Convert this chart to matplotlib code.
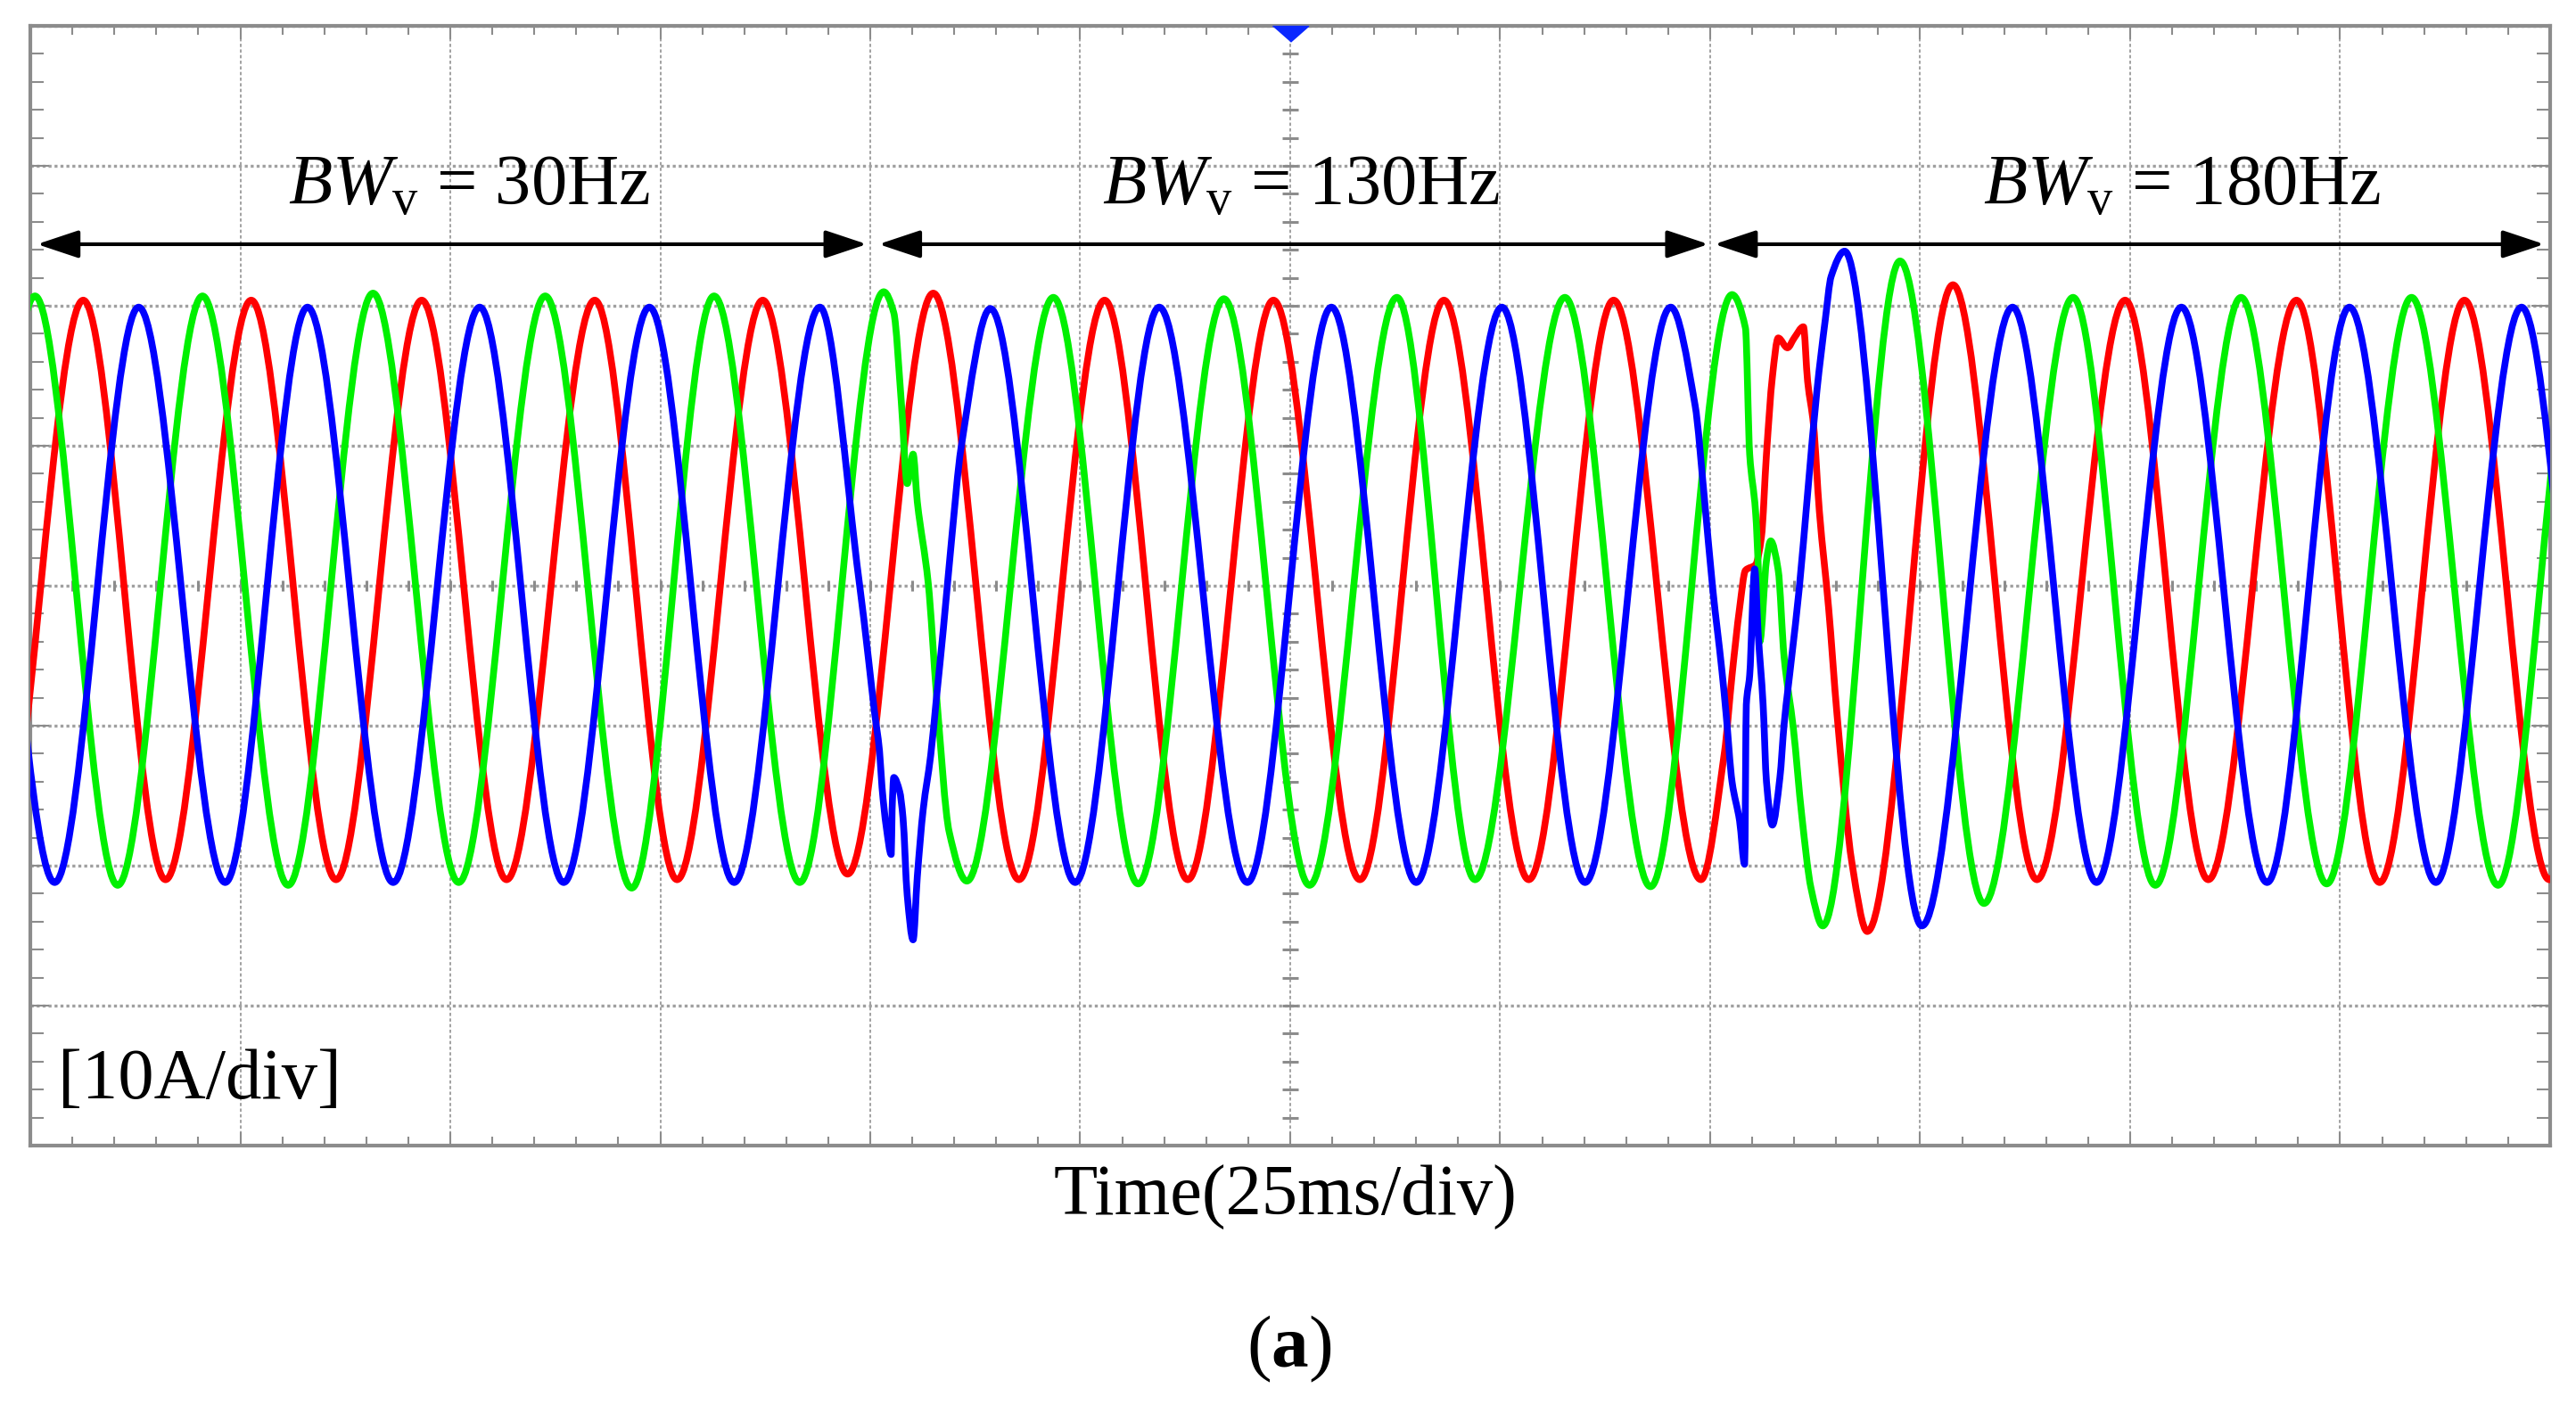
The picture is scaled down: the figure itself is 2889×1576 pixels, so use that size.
import matplotlib
matplotlib.use("Agg")
import matplotlib.pyplot as plt
from matplotlib.path import Path
from matplotlib.patches import PathPatch
import numpy as np

plt.rcParams["font.family"] = ["Liberation Serif", "DejaVu Serif"]
plt.rcParams["mathtext.fontset"] = "custom"
plt.rcParams["mathtext.rm"] = "Liberation Serif"
plt.rcParams["mathtext.it"] = "Liberation Serif:italic"
plt.rcParams["mathtext.bf"] = "Liberation Serif:bold"

# turning points (peaks / troughs) of each phase current, time in ms, current in A
green_turn_t = [-9.5, 0.55, 10.4, 20.5, 30.7, 40.8, 51.0, 61.3, 71.6, 81.4, 91.6, 101.6,
                111.5, 121.8, 131.9, 142.1, 152.3, 162.7, 172.0, 182.7, 192.9, 202.6,
                213.4, 222.6, 232.6, 243.2, 253.0, 263.2, 273.4, 283.5, 293.8, 303.7]
green_turn_i = [-21.4, 20.7, -21.4, 20.7, -21.4, 20.9, -21.2, 20.7, -21.6, 20.7, -21.2, 21.0,
                -21.1, 20.6, -21.3, 20.5, -21.4, 20.6, -21.0, 20.6, -21.5, 20.8,
                -24.3, 23.2, -22.7, 20.6, -21.4, 20.6, -21.3, 20.6, -21.4, 20.6]

red_turn_t = [-3.9, 6.3, 16.1, 26.3, 36.4, 46.6, 56.7, 67.2, 77.0, 87.2, 97.3, 107.5,
              117.7, 127.9, 137.8, 148.0, 158.3, 168.3, 178.4, 188.5, 198.9,
              218.7, 228.9, 238.9, 249.4, 259.3, 269.8, 279.7, 289.8, 299.9, 310.0]
red_turn_i = [-21.0, 20.4, -21.0, 20.4, -21.0, 20.4, -21.0, 20.4, -21.0, 20.4, -20.6, 20.9,
              -21.0, 20.4, -21.0, 20.4, -21.0, 20.4, -21.0, 20.4, -21.0,
              -24.7, 21.5, -21.0, 20.4, -21.0, 20.4, -21.2, 20.4, -21.0, 20.4]

blue_turn_t = [-7.3, 2.9, 12.9, 23.2, 33.0, 43.2, 53.5, 63.5, 73.7, 83.8, 94.0,
               114.3, 124.4, 134.4, 144.9, 154.9, 165.0, 175.2, 185.1, 195.3,
               216.0, 225.2, 236.0, 246.0, 256.1, 266.3, 276.1, 286.4, 296.6, 306.6]
blue_turn_i = [19.9, -21.2, 19.9, -21.2, 19.9, -21.2, 19.9, -21.2, 19.9, -21.2, 19.9,
               19.8, -21.2, 19.9, -21.2, 19.9, -21.2, 19.9, -21.2, 19.9,
               23.9, -24.3, 19.9, -21.2, 19.9, -21.2, 19.9, -21.2, 19.9, -21.2]

# transient samples around the two bandwidth switches (100 ms and 200 ms)
green_step_t = [102.8, 103.7, 104.4, 105.1, 105.6, 106.9, 107.9, 109.4,
                204.2, 204.7, 205.4, 205.8, 205.9, 206.7, 207.2, 208.1, 208.8, 209.9, 210.9, 212.0]
green_step_i = [19.5, 13.1, 7.3, 9.4, 6.0, 0.2, -7.9, -17.6,
                18.4, 9.4, 5.3, -0.2, -4.0, 1.8, 3.2, 1.1, -5.1, -10.2, -16.4, -21.6]

red_step_t = [201.7, 202.6, 203.5, 204.2, 205.4, 206.1, 206.7, 207.4, 208.1, 209.2,
              210.0, 211.1, 211.6, 212.3, 213.0, 214.1, 215.1, 216.9]
red_step_i = [-11.9, -6.4, -1.6, 1.1, 1.5, 3.5, 9.4, 14.9, 17.7, 17.0,
              17.7, 18.5, 14.6, 11.5, 5.3, -1.6, -9.2, -19.9]

blue_step_t = [98.7, 99.8, 100.5, 101.1, 101.4, 101.9, 102.5, 102.6, 102.8, 103.5, 103.9,
               104.4, 105.1, 105.6, 106.3, 107.2, 107.9, 108.7, 109.7, 110.8,
               198.2, 199.3, 200.3, 201.4, 201.9, 202.6, 203.5, 204.1, 204.3, 204.7, 205.3,
               205.7, 206.3, 206.7, 207.4, 208.3, 208.8, 209.7, 210.6, 211.6, 212.7, 213.7, 214.4]
blue_step_i = [0.2, -5.3, -9.0, -11.8, -14.4, -17.2, -19.2, -16.0, -13.7, -14.7, -16.6,
               -22.1, -25.3, -20.8, -16.0, -12.1, -7.9, -3.1, 3.4, 9.8,
               12.9, 6.3, -0.2, -6.1, -9.2, -14.0, -16.8, -19.9, -8.5, -6.4, 1.2,
               -3.3, -8.5, -14.0, -17.1, -13.7, -9.9, -5.1, -0.2, 6.6, 13.9, 19.0, 22.1]

sections = ["30Hz", "130Hz", "180Hz"]
section_start = [0.8, 101.0, 200.5]
section_end = [99.6, 199.8, 299.3]
label_left = [30.7, 127.6, 232.5]


def trace_path(turn_t, turn_i, step_t, step_i):
    # monotone cubic bezier through the read points (flat at every turning point)
    pts = sorted(zip(list(turn_t) + list(step_t), list(turn_i) + list(step_i)))
    t = np.array([p[0] for p in pts])
    y = np.array([p[1] for p in pts])
    d = np.diff(y) / np.diff(t)
    m = np.zeros_like(y)
    for k in range(1, len(y) - 1):
        if d[k - 1] * d[k] > 0:
            m[k] = 2 / (1 / d[k - 1] + 1 / d[k])
    verts = [(t[0], y[0])]
    codes = [Path.MOVETO]
    for k in range(len(t) - 1):
        h = (t[k + 1] - t[k]) / 3
        verts += [(t[k] + h, y[k] + m[k] * h), (t[k + 1] - h, y[k + 1] - m[k + 1] * h),
                  (t[k + 1], y[k + 1])]
        codes += [Path.CURVE4] * 3
    return Path(verts, codes)


fig = plt.figure(figsize=(28.89, 15.76), dpi=100)
ax = fig.add_axes([0.01177, 0.18464, 0.97819, 0.79695])
ax.set_xlim(0, 300)
ax.set_ylim(-40, 40)

grey = "#8c8c8c"
ax.set_xticks(np.arange(0, 301, 25))
ax.set_xticks(np.arange(0, 301, 5), minor=True)
ax.set_yticks(np.arange(-40, 41, 10))
ax.set_yticks(np.arange(-40, 41, 2), minor=True)
ax.tick_params(which="both", direction="in", top=True, right=True,
               labelbottom=False, labelleft=False, color=grey, width=1.5)
ax.tick_params(axis="x", which="major", length=11)
ax.tick_params(axis="x", which="minor", length=7)
ax.tick_params(axis="y", which="major", length=15)
ax.tick_params(axis="y", which="minor", length=11)
for sp in ax.spines.values():
    sp.set_color(grey)
    sp.set_linewidth(3)

ax.grid(axis="x", which="major", color="#9a9a9a", ls=(0, (2, 1.5)), lw=1.3)
ax.grid(axis="y", which="major", color="#a0a0a0", ls=(0, (1, 1)), lw=2.4)
ax.set_axisbelow(True)

# scale marks on the centre cross
ax.plot(np.full(41, 150.0), np.arange(-40, 41, 2), ls="none", marker="_",
        ms=13, mew=2.2, color=grey, zorder=1)
ax.plot(np.arange(0, 301, 5), np.zeros(61), ls="none", marker="|",
        ms=9, mew=2.2, color=grey, zorder=1)

phases = [
    (red_turn_t, red_turn_i, red_step_t, red_step_i, "#ff0000"),
    (green_turn_t, green_turn_i, green_step_t, green_step_i, "#00f000"),
    (blue_turn_t, blue_turn_i, blue_step_t, blue_step_i, "#0000ff"),
]
for z, (tt, ti, st, si, col) in enumerate(phases):
    ax.add_patch(PathPatch(trace_path(tt, ti, st, si), fill=False, ec=col,
                           lw=5.5, joinstyle="round", capstyle="round", zorder=3 + z))

for name, t0, t1, xl in zip(sections, section_start, section_end, label_left):
    ax.annotate("", xy=(t1, 24.4), xytext=(t0, 24.4),
                arrowprops=dict(arrowstyle="<|-|>,head_length=0.96,head_width=0.32",
                                mutation_scale=30, lw=3, color="black",
                                shrinkA=0, shrinkB=0), zorder=8)
    ax.text(xl, 27.2, r"$\mathit{BW}_{\mathrm{v}}$ = " + name, fontsize=58,
            ha="left", va="baseline", zorder=8)

ax.text(3.3, -36.6, "[10A/div]", fontsize=58, ha="left", va="baseline", zorder=8)

# trigger marker
ax.plot(150, 40, marker=[(-1, 0), (1, 0), (0, -0.88)], ms=29, color="#0a28ff",
        clip_on=False, zorder=9)

fig.text(0.4991, 0.135, "Time(25ms/div)", fontsize=58, ha="center", va="baseline")
fig.text(0.5005, 0.027, r"($\mathbf{a}$)", fontsize=60, ha="center", va="baseline")

fig.savefig("out.png", dpi=100)
